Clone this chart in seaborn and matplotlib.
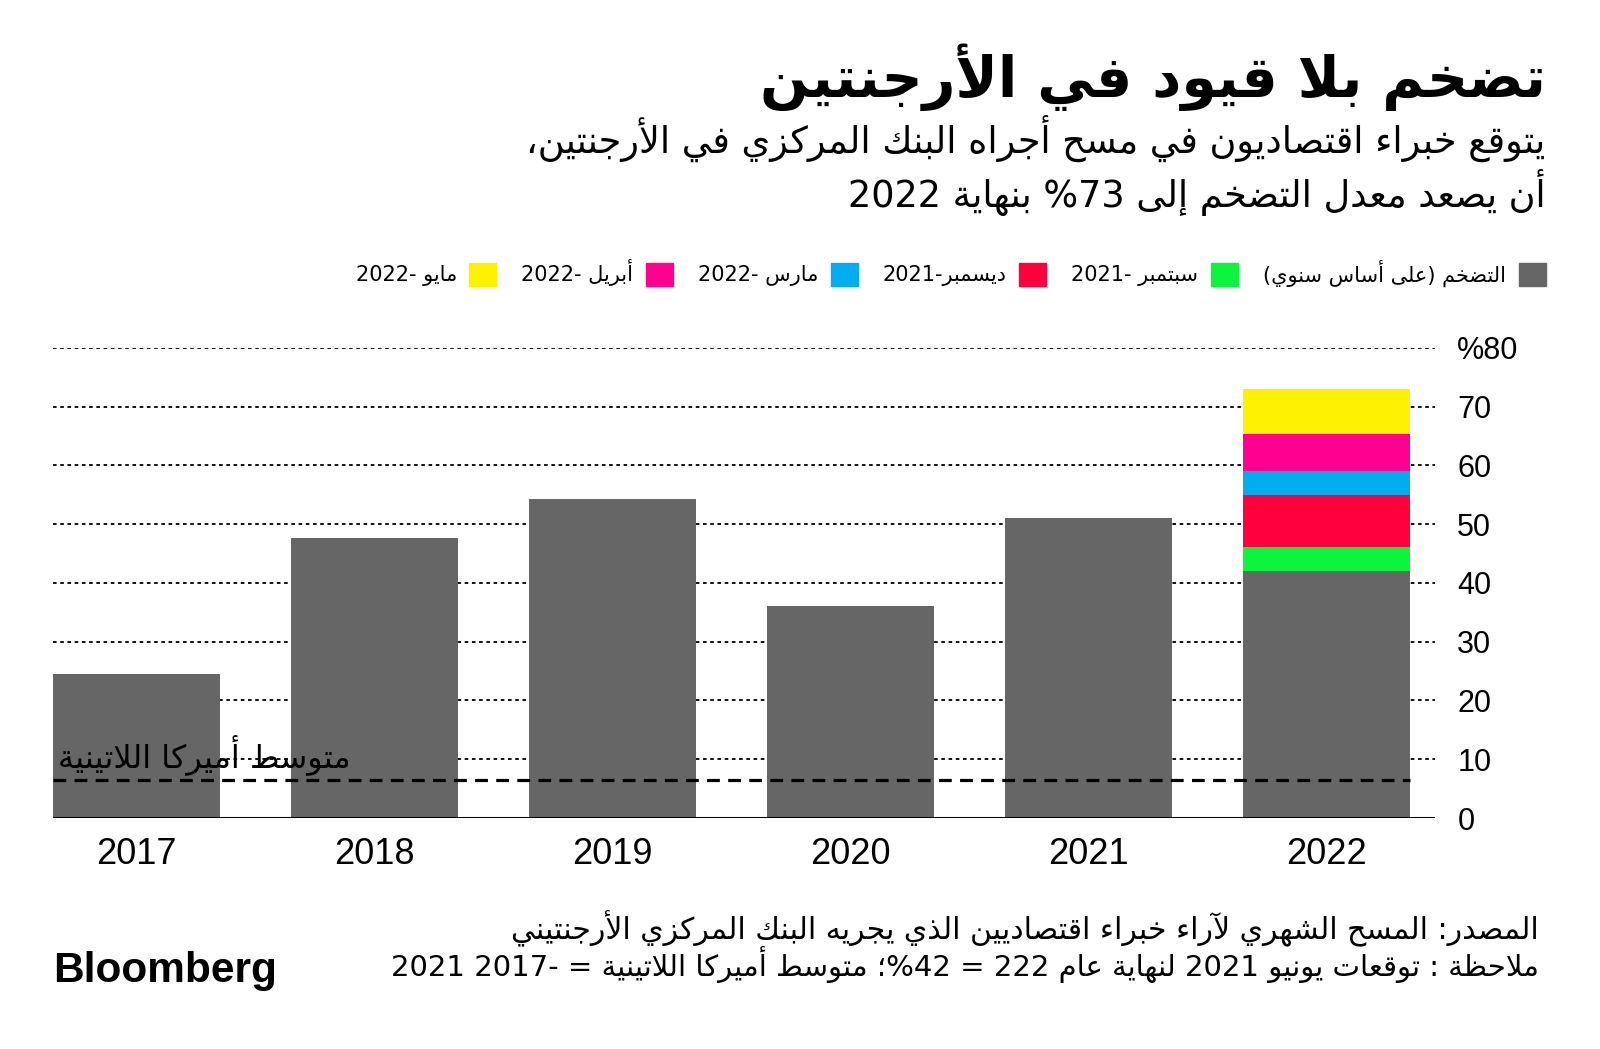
import re
import seaborn as sns
import matplotlib.pyplot as plt
from matplotlib.patches import Patch

# بيانات الرسم
years = ["2017", "2018", "2019", "2020", "2021", "2022"]
inflation = [24.5, 47.6, 54.3, 36.1, 51.0, 42.0]
forecast_labels = ["سبتمبر -2021", "ديسمبر-2021", "مارس -2022", "أبريل -2022", "مايو -2022"]
forecast_levels = [46.2, 55.0, 59.1, 65.4, 73.0]
forecast_colors = ["#0BF53C", "#FF003C", "#00AEEF", "#FF0090", "#FFF200"]
inflation_label = "التضخم (على أساس سنوي)"
latam_avg = 6.4
latam_label = "متوسط أميركا اللاتينية"
yticks = [0, 10, 20, 30, 40, 50, 60, 70, 80]
ytick_labels = ["0", "10", "20", "30", "40", "50", "60", "70", "%80"]

title = "تضخم بلا قيود في الأرجنتين"
subtitle_1 = "يتوقع خبراء اقتصاديون في مسح أجراه البنك المركزي في الأرجنتين،"
subtitle_2 = "أن يصعد معدل التضخم إلى 73% بنهاية 2022"
source_1 = "المصدر: المسح الشهري لآراء خبراء اقتصاديين الذي يجريه البنك المركزي الأرجنتيني"
source_2 = "ملاحظة : توقعات يونيو 2021 لنهاية عام 222 = 42%؛ متوسط أميركا اللاتينية = -2017 2021"

GRAY = "#666666"

# matplotlib has no arabic shaping, so a small reshaper + reversal
AR_FORMS = {
    "\u0621": (0xFE80, 1), "\u0622": (0xFE81, 2), "\u0623": (0xFE83, 2), "\u0624": (0xFE85, 2),
    "\u0625": (0xFE87, 2), "\u0626": (0xFE89, 4), "\u0627": (0xFE8D, 2), "\u0628": (0xFE8F, 4),
    "\u0629": (0xFE93, 2), "\u062A": (0xFE95, 4), "\u062B": (0xFE99, 4), "\u062C": (0xFE9D, 4),
    "\u062D": (0xFEA1, 4), "\u062E": (0xFEA5, 4), "\u062F": (0xFEA9, 2), "\u0630": (0xFEAB, 2),
    "\u0631": (0xFEAD, 2), "\u0632": (0xFEAF, 2), "\u0633": (0xFEB1, 4), "\u0634": (0xFEB5, 4),
    "\u0635": (0xFEB9, 4), "\u0636": (0xFEBD, 4), "\u0637": (0xFEC1, 4), "\u0638": (0xFEC5, 4),
    "\u0639": (0xFEC9, 4), "\u063A": (0xFECD, 4), "\u0641": (0xFED1, 4), "\u0642": (0xFED5, 4),
    "\u0643": (0xFED9, 4), "\u0644": (0xFEDD, 4), "\u0645": (0xFEE1, 4), "\u0646": (0xFEE5, 4),
    "\u0647": (0xFEE9, 4), "\u0648": (0xFEED, 2), "\u0649": (0xFEEF, 2), "\u064A": (0xFEF1, 4),
}
LAM_ALEF = {"\u0622": 0xFEF5, "\u0623": 0xFEF7, "\u0625": 0xFEF9, "\u0627": 0xFEFB}
MIRROR = str.maketrans("()", ")(")


def shape(text):
    units = []
    i = 0
    while i < len(text):
        c = text[i]
        if c == "\u0644" and i + 1 < len(text) and text[i + 1] in LAM_ALEF:
            units.append((LAM_ALEF[text[i + 1]], 2))
            i += 2
        elif c in AR_FORMS:
            units.append(AR_FORMS[c])
            i += 1
        else:
            units.append((c, 0))
            i += 1
    out = []
    for k, (base, n) in enumerate(units):
        if n == 0:
            out.append(base)
            continue
        prev_j = n >= 2 and k > 0 and units[k - 1][1] == 4
        next_j = n == 4 and k + 1 < len(units) and units[k + 1][1] >= 2
        if n == 1:
            off = 0
        elif prev_j and next_j:
            off = 3
        elif prev_j:
            off = 1
        elif next_j:
            off = 2
        else:
            off = 0
        out.append(chr(base + off))
    return "".join(out)


def ar(text):
    s = shape(text)
    runs = re.findall(r"[0-9A-Za-z]+|[^0-9A-Za-z]+", s)
    vis = []
    for r in reversed(runs):
        if r[0].isascii() and r[0].isalnum():
            vis.append(r)
        else:
            vis.append(r[::-1].translate(MIRROR))
    return "".join(vis)


sns.set_style("white")
plt.rcParams["font.family"] = ["DejaVu Sans"]
plt.rcParams["text.color"] = "black"
plt.rcParams["xtick.color"] = "black"
plt.rcParams["ytick.color"] = "black"

fig = plt.figure(figsize=(16, 10.49), dpi=100)
ax = fig.add_axes([0.0331, 0.2202, 0.8638, 0.4481])

# stacked forecast bar for 2022, tallest layer first
for level, col in reversed(list(zip(forecast_levels, forecast_colors))):
    sns.barplot(x=["2022"], y=[level], order=years, color=col, saturation=1,
                width=0.7, linewidth=0, errorbar=None, ax=ax, zorder=2)
sns.barplot(x=years, y=inflation, order=years, color=GRAY, saturation=1,
            width=0.7, linewidth=0, errorbar=None, ax=ax, zorder=3)

ax.set_xlim(-0.35, 5.455)
ax.set_ylim(0, 80)
ax.set_yticks(yticks)
ax.set_yticklabels(ytick_labels, family="Liberation Sans", fontsize=22, ha="left")
ax.yaxis.tick_right()
ax.tick_params(axis="y", length=0, pad=16)
ax.tick_params(axis="x", length=0, pad=14, labelsize=26)
for t in ax.get_xticklabels():
    t.set_family("Liberation Sans")
ax.set_xlabel("")
ax.set_ylabel("")
for sp in ax.spines.values():
    sp.set_visible(False)
ax.set_axisbelow(True)
ax.yaxis.grid(True, color="black", lw=1.3, ls=(0, (2, 2)))
ax.axhline(0, color="black", lw=2.2, zorder=5)

ax.hlines(latam_avg, -0.35, 5.35, color="black", lw=2.3, ls=(0, (4, 2.6)), zorder=6)
ax.text(-0.33, latam_avg + 1.0, ar(latam_label), fontsize=23, ha="left",
        va="bottom", zorder=7)

# titles
fig.text(0.966, 1 - 97 / 1049, ar(title), fontsize=41, weight="bold",
         ha="right", va="baseline")
fig.text(0.966, 1 - 153 / 1049, ar(subtitle_1), fontsize=26.4, ha="right", va="baseline")
fig.text(0.966, 1 - 207 / 1049, ar(subtitle_2), fontsize=26.4, ha="right", va="baseline")

# legend, right to left
handles = [Patch(color=GRAY)] + [Patch(color=c) for c in forecast_colors]
labels = [ar(inflation_label)] + [ar(l) for l in forecast_labels]
fig.legend(handles[::-1], labels[::-1], loc="center right",
           bbox_to_anchor=(0.966, 1 - 273 / 1049), ncol=6, frameon=False,
           markerfirst=False, fontsize=15, handlelength=1.3, handleheight=1.3,
           handletextpad=0.6, columnspacing=1.2, borderpad=0, borderaxespad=0)

# footer
fig.text(0.962, 1 - 929 / 1049, ar(source_1), fontsize=21.5, ha="right", va="center")
fig.text(0.962, 1 - 965 / 1049, ar(source_2), fontsize=21, ha="right", va="center")
fig.text(0.033, 1 - 971 / 1049, "Bloomberg", family="Liberation Sans", weight="bold",
         fontsize=30.5, ha="left", va="center")

fig.savefig("out.png", dpi=100, facecolor="white")
